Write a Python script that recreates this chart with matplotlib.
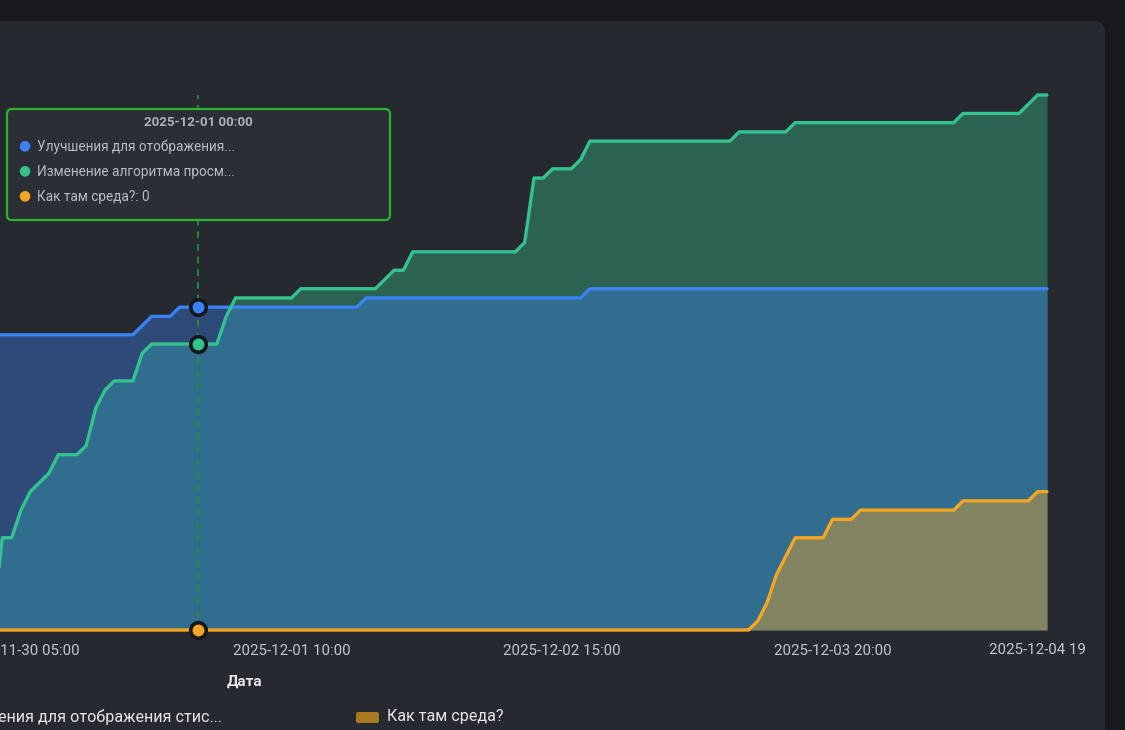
import pandas as pd
import matplotlib.pyplot as plt
import matplotlib.dates as mdates
from matplotlib.patches import FancyBboxPatch

plt.rcParams["font.family"] = ["Roboto", "DejaVu Sans"]

W, H = 1125, 730

# hourly cumulative counts, 2025-11-30 02:00 .. 2025-12-04 19:00
times = pd.date_range("2025-11-30 02:00", "2025-12-04 19:00", freq="h")

blue_vals = [
    32, 32, 32, 32, 32, 32, 32, 32, 32, 32, 32, 32, 32, 32, 32, 32,
    33, 34, 34, 34,
    35, 35, 35, 35, 35, 35, 35, 35, 35, 35, 35, 35, 35, 35, 35, 35, 35, 35, 35, 35,
    36, 36, 36, 36, 36, 36, 36, 36, 36, 36, 36, 36, 36, 36, 36, 36, 36, 36, 36, 36, 36, 36, 36, 36,
    37, 37, 37, 37, 37, 37, 37, 37, 37, 37, 37, 37, 37, 37, 37, 37, 37, 37, 37, 37, 37, 37, 37, 37, 37,
    37, 37, 37, 37, 37, 37, 37, 37, 37, 37, 37, 37, 37, 37, 37, 37, 37, 37, 37, 37, 37, 37, 37, 37, 37,
]
green_vals = [
    1, 10, 10,
    13, 15, 16, 17, 19, 19, 19, 20, 24, 26, 27, 27, 27, 30,
    31, 31, 31, 31, 31, 31, 31, 31,
    34,
    36, 36, 36, 36, 36, 36, 36,
    37, 37, 37, 37, 37, 37, 37, 37, 37,
    38, 39, 39,
    41, 41, 41, 41, 41, 41, 41, 41, 41, 41, 41, 41,
    42, 49, 49, 50, 50, 50, 51,
    53, 53, 53, 53, 53, 53, 53, 53, 53, 53, 53, 53, 53, 53, 53, 53,
    54, 54, 54, 54, 54, 54,
    55, 55, 55, 55, 55, 55, 55, 55, 55, 55, 55, 55, 55, 55, 55, 55, 55, 55,
    56, 56, 56, 56, 56, 56, 56,
    57, 58, 58,
]
orange_vals = [0] * 82 + [
    1, 3, 6, 8,
    10, 10, 10, 10,
    12, 12, 12,
    13, 13, 13, 13, 13, 13, 13, 13, 13, 13, 13,
    14, 14, 14, 14, 14, 14, 14, 14,
    15, 15,
]

series = [
    ("Улучшения для отображения стис...", blue_vals, "#3b82f6"),
    ("Изменение алгоритма просм...", green_vals, "#34c38f"),
    ("Как там среда?", orange_vals, "#f5a524"),
]

tooltip_labels = ["Улучшения для отображения...", "Изменение алгоритма просм...", "Как там среда?: 0"]
hover_time = pd.Timestamp("2025-12-01 00:00")
tick_times = pd.to_datetime(["2025-11-30 05:00", "2025-12-01 10:00", "2025-12-02 15:00", "2025-12-03 20:00"])
last_tick_label = "2025-12-04 19"

BG_OUTER = "#17191d"
CARD = "#262a30"
TEXT = "#c3c7cd"


def fx(x):
    return x / W


def fy(y):
    return 1 - y / H


fig = plt.figure(figsize=(W / 100, H / 100), dpi=100)
fig.patch.set_facecolor(BG_OUTER)

# card background with rounded top-right corner
card = FancyBboxPatch((-30, -30), 1105 + 30 - 10, H - 21 + 30 - 10,
                      boxstyle="round,pad=10,rounding_size=12",
                      transform=None, facecolor=CARD, edgecolor="none", zorder=-5)
fig.patches.append(card)

# plot area: 0 at y=630 px, top (58) at y=95 px; x from 0 to 1047 px
ax = fig.add_axes([0, fy(630), fx(1047), (630 - 95) / H])
ax.set_zorder(1)
ax.set_facecolor("none")
ax.set_xlim(pd.Timestamp("2025-11-30 02:45"), times[-1])
ax.set_ylim(0, 58)
for s in ax.spines.values():
    s.set_visible(False)
ax.set_yticks([])

# fills: green first, blue over it, orange on top
fill_alpha = {"#3b82f6": 0.37, "#34c38f": 0.37, "#f5a524": 0.42}
for name, vals, color in [series[1], series[0], series[2]]:
    ax.fill_between(times, 0, vals, color=color, alpha=fill_alpha[color], lw=0, zorder=1)
for name, vals, color in series:
    ax.plot(times, vals, color=color, lw=2.4, zorder=3, clip_on=False,
            solid_joinstyle="round", solid_capstyle="round")

# hover line + markers
ax.axvline(hover_time, color="#2a8a3c", lw=1.4, ls=(0, (3.5, 3)), zorder=2)
hi = list(times).index(hover_time)
for name, vals, color in series:
    ax.scatter([hover_time], [vals[hi]], s=125, color=color, edgecolor="#15171a",
               linewidths=2.6, zorder=5, clip_on=False)

ax.set_xticks(tick_times)
ax.xaxis.set_major_formatter(mdates.DateFormatter("%Y-%m-%d %H:%M"))
ax.tick_params(axis="x", length=0, pad=10, labelsize=10.8, colors=TEXT)
ax.annotate(last_tick_label, xy=(times[-1], 0), xycoords="data",
            xytext=(-58, -20), textcoords="offset pixels",
            ha="left", va="center", fontsize=10.8, color=TEXT, annotation_clip=False)

fig.text(fx(245), fy(682), "Дата", ha="center", va="center",
         fontsize=11, fontweight="bold", color="#e8e8e8")

# legend row (left part is cut off by the frame)
fig.text(fx(222), fy(717), series[0][0], ha="right", va="center", fontsize=11.6, color="#e6e6e6")
leg_patch = FancyBboxPatch((356, H - 723), 23, 11, boxstyle="round,pad=0,rounding_size=2",
                           transform=None, facecolor="#a8791f", edgecolor="none")
fig.patches.append(leg_patch)
fig.text(fx(387), fy(717), series[2][0], ha="left", va="center", fontsize=11.6, color="#e6e6e6")

# tooltip (drawn above the plot axes)
tip = FancyBboxPatch((7, H - 220), 383, 111, boxstyle="round,pad=0,rounding_size=5",
                     transform=None, facecolor="#2b2e34", edgecolor="#2db52d", lw=1.6, zorder=6)
fig.patches.append(tip)
fig.text(fx(198), fy(122), hover_time.strftime("%Y-%m-%d %H:%M"), ha="center", va="center",
         fontsize=9.5, fontweight="bold", color="#aeb2b8", zorder=7)
for i, (label, (_, _, color)) in enumerate(zip(tooltip_labels, series)):
    y = 146 + 25 * i
    fig.text(fx(24), fy(y - 1), "●", ha="center", va="center", fontsize=10, color=color,
             family=["DejaVu Sans"], zorder=7)
    fig.text(fx(37), fy(y + 1), label, ha="left", va="center", fontsize=9.85, color="#b8bcc2", zorder=7)

plt.savefig("out.png", dpi=100, facecolor=fig.get_facecolor())
plt.close()
